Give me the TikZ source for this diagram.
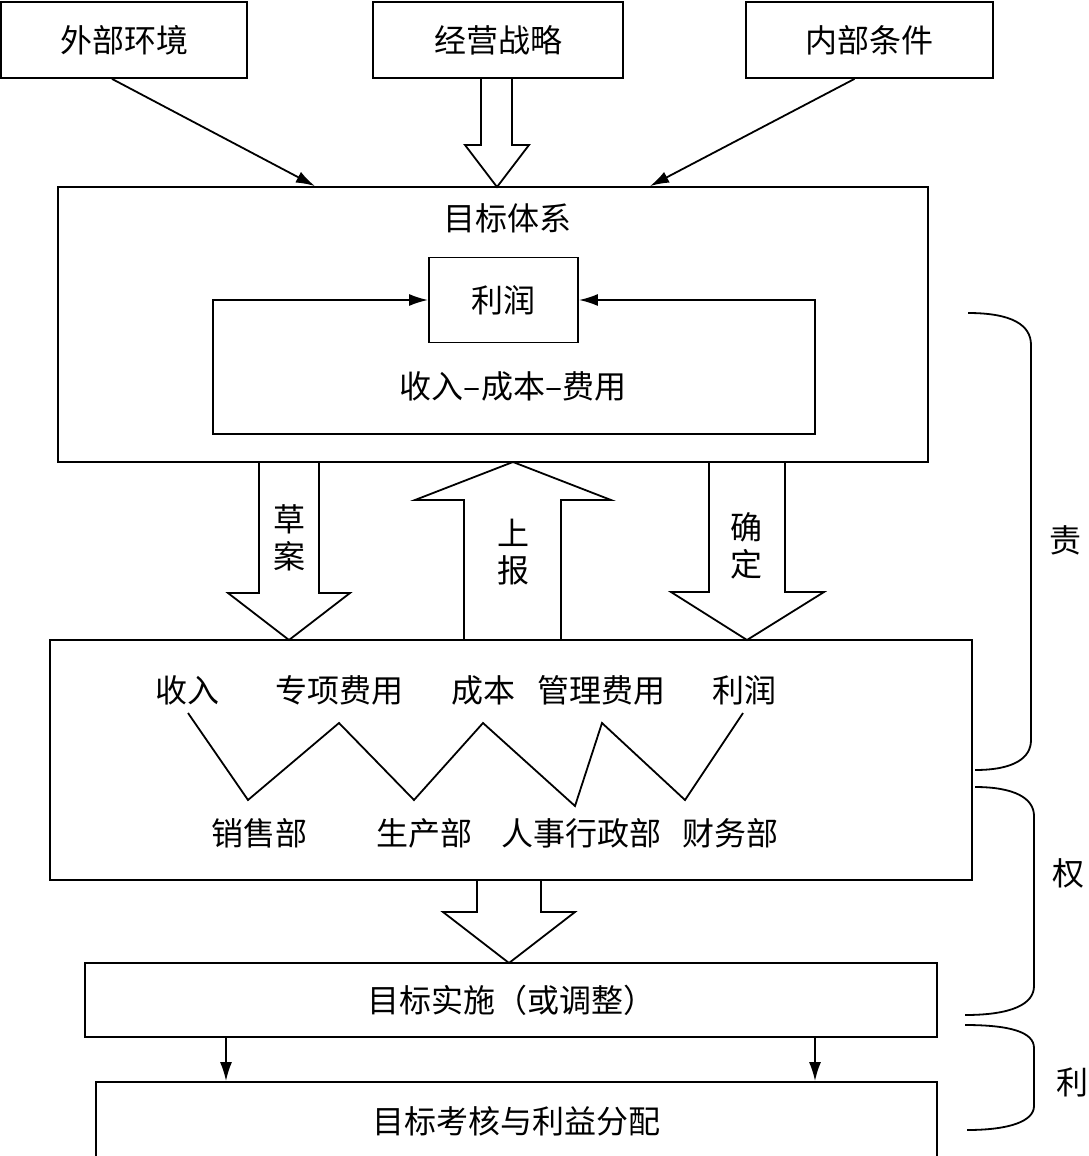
\documentclass[tikz,border=0pt]{standalone}
\usepackage{fontspec}
\setmainfont{Noto Sans CJK SC}
\usepackage{tikz}
\usetikzlibrary{arrows.meta, positioning, calc}

\tikzset{
  box/.style={draw, line width=1.8pt, inner sep=0pt, font=\fontsize{32}{37}\selectfont},
  txt/.style={inner sep=0pt, align=center, font=\fontsize{32}{37}\selectfont},
  thin/.style={line width=1.8pt},
  arr/.style={line width=1.8pt, -{Latex[length=19pt, width=12pt]}},
  hollow/.style={draw, line width=1.8pt, line join=miter},
}

\begin{document}
\begin{tikzpicture}[x=1pt, y=-1pt]
    \useasboundingbox (0,0) rectangle (1088,1156);

    \node[box, minimum width=246pt, minimum height=76pt] (env) at (124,40) {外部环境};
    \node[box, minimum width=250pt, minimum height=76pt] (strat) at (498,40) {经营战略};
    \node[box, minimum width=247pt, minimum height=76pt] (cond) at (869.5,40) {内部条件};

    \node[box, minimum width=870pt, minimum height=275pt] (goal) at (493,324.5) {};
    \node[txt] (goaltitle) at (507,218) {目标体系};
    \node[box, minimum width=149pt, minimum height=85pt] (profit) at (503.5,300) {利润};
    \node[txt] (formula) at (513,386) {收入–成本–费用};
    \coordinate (loopl) at (213,434);
    \coordinate (loopr) at (815,434);
    \draw[arr] (loopr) -- (loopl) |- (profit.west);
    \draw[arr, line cap=rect] (loopr) |- (profit.east);

    \draw[arr] ([xshift=-12pt]env.south) -- ([xshift=-178pt]goal.north);
    \draw[arr] ([xshift=-15pt]cond.south) -- ([xshift=157pt]goal.north);
    \draw[hollow] (481,78) -- (481,145) -- (465,145) -- (497,187) -- (529,145) -- (512,145) -- (512,78);

    \node[box, minimum width=922pt, minimum height=240pt] (plan) at (511,760) {};

    % draft, report, confirm
    \draw[hollow] (259,462) -- (259,593) -- (228,593) -- (289,640) -- (350,593) -- (319,593) -- (319,462);
    \draw[hollow] (464,640) -- (464,500) -- (415,500) -- (513,462) -- (611,500) -- (561,500) -- (561,640);
    \draw[hollow] (709,462) -- (709,592) -- (671,592) -- (747,640) -- (824,592) -- (785,592) -- (785,462);
    \node[txt] (draft) at (289,538) {草\\案};
    \node[txt] (report) at (513,552) {上\\报};
    \node[txt] (confirm) at (746,546) {确\\定};

    \node[txt] (inc) at (187,690) {收入};
    \node[txt] (spec) at (339,690) {专项费用};
    \node[txt] (cost) at (483,690) {成本};
    \node[txt] (mgmt) at (601,690) {管理费用};
    \node[txt] (prof) at (744,690) {利润};
    \node[txt] (sales) at (259,833) {销售部};
    \node[txt] (prod) at (424,833) {生产部};
    \node[txt] (hr) at (581,833) {人事行政部};
    \node[txt] (fin) at (730,833) {财务部};

    \foreach \n/\x/\y in {z0/188/713, z1/248/800, z2/339/723, z3/414/800, z4/483/723,
                          z5/575/806, z6/602/723, z7/685/800, z8/743/713}
        \coordinate (\n) at (\x,\y);
    \draw[thin] (z0) -- (z1) -- (z2) -- (z3) -- (z4) -- (z5) -- (z6) -- (z7) -- (z8);

    \draw[hollow] (477,880) -- (477,912) -- (443,912) -- (509,963) -- (575,912) -- (541,912) -- (541,880);
    \node[box, minimum width=852pt, minimum height=74pt] (impl) at (511,1000) {目标实施（或调整）};
    \node[box, minimum width=841pt, minimum height=78pt] (eval) at (516.5,1121) {目标考核与利益分配};
    \draw[arr] ([xshift=-285pt]impl.south) -- ([xshift=-290.5pt]eval.north);
    \draw[arr] ([xshift=304pt]impl.south) -- ([xshift=298.5pt]eval.north);

    % braces
    \draw[thin] (968,313) .. controls (1012,313) and (1031,325) .. (1031,345) -- (1031,740)
        .. controls (1031,758) and (1014,770) .. (975,770);
    \draw[thin] (975,787) .. controls (1014,787) and (1034,798) .. (1034,816) -- (1034,986)
        .. controls (1034,1004) and (1012,1015) .. (965,1015);
    \draw[thin] (965,1025) .. controls (1010,1025) and (1034,1032) .. (1034,1048) -- (1034,1106)
        .. controls (1034,1121) and (1010,1130) .. (967,1130);
    \node[txt] (duty) at (1065,540) {责};
    \node[txt] (power) at (1068,873) {权};
    \node[txt] (gain) at (1072,1082) {利};
\end{tikzpicture}
\end{document}
